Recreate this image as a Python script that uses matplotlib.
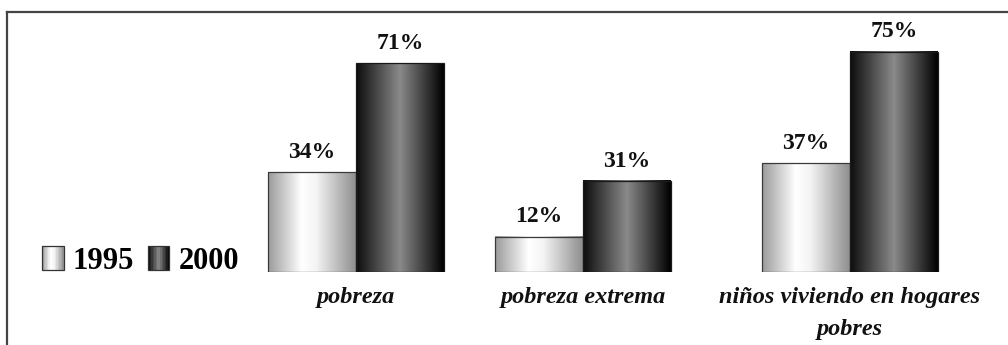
import numpy as np
import matplotlib.pyplot as plt
from matplotlib.colors import LinearSegmentedColormap
from matplotlib.patches import Rectangle
from matplotlib.lines import Line2D
from matplotlib.legend_handler import HandlerBase

# === data ===
categories = ['pobreza', 'pobreza extrema', 'niños viviendo en hogares\npobres']
years = ['1995', '2000']
values_1995 = [34, 12, 37]
values_2000 = [71, 31, 75]

# group centres (the middle group sits a little left in the original)
group_pos = np.array([0, 0.919, 2])

# gradient fills (scanned look)
light = LinearSegmentedColormap.from_list(
    'light', [(0, '#9a9a9a'), (0.38, '#ffffff'), (0.55, '#f4f4f4'), (1, '#8e8e8e')])
dark = LinearSegmentedColormap.from_list(
    'dark', [(0, '#0c0c0c'), (0.5, '#8a8a8a'), (1, '#000000')])

serif = 'Liberation Serif'


class GradientHandler(HandlerBase):
    def __init__(self, cmap):
        super().__init__()
        self.cmap = cmap

    def create_artists(self, legend, orig_handle, xdescent, ydescent,
                       width, height, fontsize, trans):
        n = 14
        arts = []
        for k in range(n):
            arts.append(Rectangle((-xdescent + width * k / n, -ydescent), width / n, height,
                                  facecolor=self.cmap((k + 0.5) / n), edgecolor='none',
                                  transform=trans))
        arts.append(Rectangle((-xdescent, -ydescent), width, height, facecolor='none',
                              edgecolor='#333333', lw=0.9, transform=trans))
        return arts


fig = plt.figure(figsize=(10.08, 3.45), dpi=100)
ax = fig.add_axes([0, 1 - 272 / 345, 1, (272 - 37) / 345])

w = 0.356
b1 = ax.bar(group_pos - w / 2, values_1995, w, facecolor='none', edgecolor='#3a3a3a', lw=0.9, zorder=3)
b2 = ax.bar(group_pos + w / 2, values_2000, w, facecolor='none', edgecolor='#1a1a1a', lw=0.9, zorder=3)

grad = np.linspace(0, 1, 256).reshape(1, -1)
for bars, cmap in ((b1, light), (b2, dark)):
    for r in bars:
        x0, y0 = r.get_x(), r.get_y()
        ax.imshow(grad, cmap=cmap, extent=(x0, x0 + r.get_width(), y0, y0 + r.get_height()),
                  aspect='auto', zorder=2, interpolation='bilinear')
    for r in bars:
        ax.text(r.get_x() + r.get_width() / 2, r.get_height() + 3.2, f'{r.get_height():.0f}%',
                ha='center', va='bottom', fontsize=17, fontweight='bold', family=serif,
                color='#111111')

ax.set_xlim(-356 / 247, 652 / 247)
ax.set_ylim(0, 80)
ax.set_xticks(group_pos)
ax.set_xticklabels(categories, fontsize=17.5, fontweight='bold', fontstyle='italic',
                   family=serif, color='#111111', linespacing=1.65)
ax.tick_params(axis='x', length=0, pad=11)
ax.set_yticks([])
for s in ax.spines.values():
    s.set_visible(False)
ax.patch.set_alpha(0)

# legend on the left
h1 = Rectangle((0, 0), 1, 1)
h2 = Rectangle((0, 0), 1, 1)
fig.legend([h1, h2], years, handler_map={h1: GradientHandler(light), h2: GradientHandler(dark)},
           loc='center left', bbox_to_anchor=(0.039, 1 - 261 / 345), ncol=2,
           frameon=False, handlelength=0.7, handleheight=0.85, handletextpad=0.3,
           columnspacing=0.45, borderpad=0.1, borderaxespad=0,
           prop={'family': serif, 'weight': 'bold', 'size': 22})

# frame lines (top and left only)
fig.add_artist(Line2D([7 / 1008, 1], [1 - 12 / 345, 1 - 12 / 345], color='#444444', lw=1.6,
                      transform=fig.transFigure))
fig.add_artist(Line2D([7 / 1008, 7 / 1008], [0, 1 - 12 / 345], color='#444444', lw=1.6,
                      transform=fig.transFigure))

plt.savefig('out.png', dpi=100)
